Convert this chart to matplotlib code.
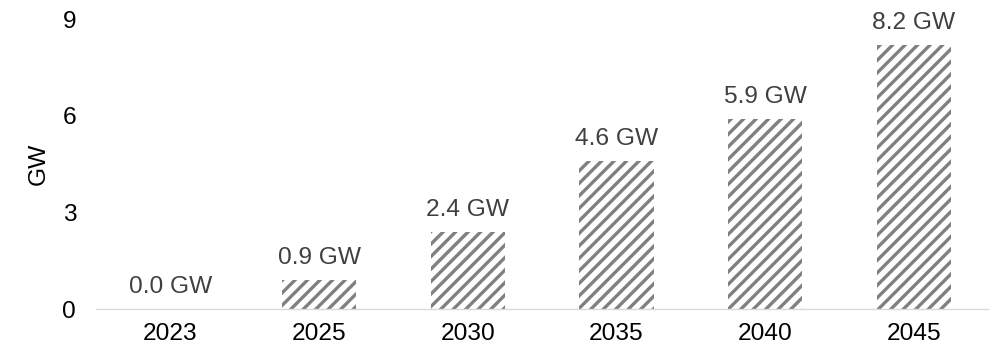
import matplotlib
matplotlib.use("Agg")
import matplotlib.pyplot as plt

# Installed capacity by year
years = ["2023", "2025", "2030", "2035", "2040", "2045"]
capacity_gw = [0.0, 0.9, 2.4, 4.6, 5.9, 8.2]
y_ticks = [0, 3, 6, 9]

DPI = 75
FS = 23.5
plt.rcParams["font.family"] = ["Liberation Sans", "DejaVu Sans"]
plt.rcParams["hatch.linewidth"] = 3.2

fig = plt.figure(figsize=(995 / DPI, 356 / DPI), dpi=DPI)
ax = fig.add_axes([96 / 995, 1 - 309 / 356, 892 / 995, 290 / 356])

x = range(len(years))
bars = ax.bar(x, capacity_gw, width=0.5, color="white", edgecolor="#808080",
              linewidth=0, hatch="//")

for xi, v in zip(x, capacity_gw):
    ax.annotate(f"{v:.1f} GW", (xi, v), xytext=(0, 15), textcoords="offset points",
                ha="center", va="baseline", fontsize=FS, color="#404040")

ax.set_xlim(-0.5, len(years) - 0.5)
ax.set_ylim(0, 9)
ax.set_xticks(list(x))
ax.set_xticklabels(years)
ax.set_yticks(y_ticks)
ax.tick_params(axis="both", length=0, labelsize=FS, colors="black")
ax.tick_params(axis="x", pad=13)
ax.tick_params(axis="y", pad=19)

for side in ("top", "right", "left"):
    ax.spines[side].set_visible(False)
ax.spines["bottom"].set_color("#d9d9d9")
ax.spines["bottom"].set_linewidth(1.3)

ax.set_ylabel("GW", fontsize=FS, color="black")
ax.yaxis.set_label_coords(-0.052, 0.5)

fig.savefig("out.png", dpi=DPI)
